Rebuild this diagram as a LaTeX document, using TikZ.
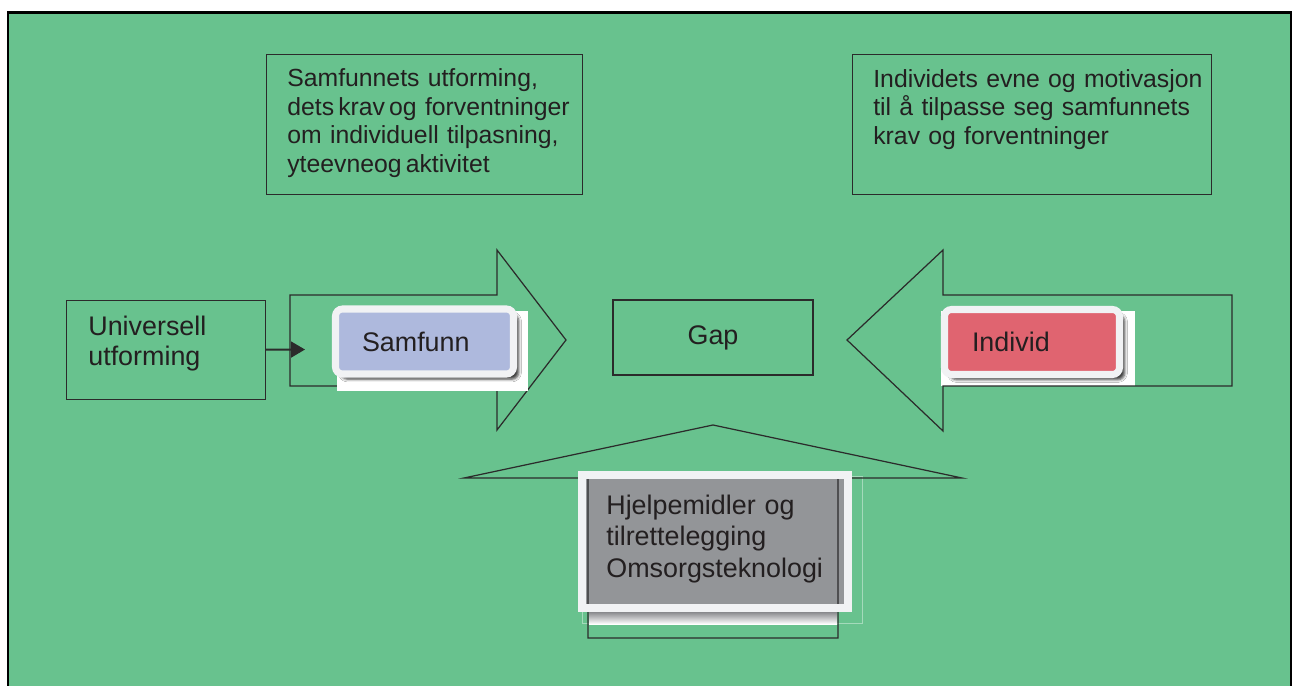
\documentclass[tikz,border=0pt]{standalone}
\usepackage{fontspec}
\setmainfont{Liberation Sans}
\usepackage{xcolor}
\usetikzlibrary{arrows.meta,positioning,shadows.blur}
\definecolor{bggreen}{HTML}{68C28E}
\definecolor{linegray}{HTML}{2B2B2B}
\definecolor{textdark}{HTML}{231F20}
\definecolor{tagblue}{HTML}{AEB9DD}
\definecolor{tagred}{HTML}{E06470}
\definecolor{hjelpgray}{HTML}{939598}
\definecolor{framewhite}{HTML}{F1F2F4}
\definecolor{shadowgray}{HTML}{8E8E92}
\newdimen\pxu
\pxu=0.02cm

\begin{document}
\begin{tikzpicture}[
    x=0.02cm, y=-0.02cm,
    outline/.style={draw=linegray, line width=0.7pt},
    plainbox/.style={outline, rectangle, inner sep=0},
    smalltext/.style={font=\fontsize{14.1}{16.3}\selectfont, text=textdark, align=left, inner sep=0},
    bigtext/.style={font=\fontsize{15.3}{17.6}\selectfont, text=textdark, align=left, inner sep=0},
    tagbox/.style={rectangle, rounded corners=4pt, draw=framewhite, line width=4pt,
        bigtext, inner ysep=0, minimum height=65\pxu,
        blur shadow={shadow xshift=3pt, shadow yshift=-3pt, shadow blur radius=1.5pt, shadow opacity=75}},
    connector/.style={draw=linegray, line width=1.1pt, -{Triangle[length=7.9pt, width=9pt]}}
]
\useasboundingbox (0,0) rectangle (1292,686);

% background and frame
\fill[bggreen] (8,12) rectangle (1292,686);
\draw[black, line width=1.2pt] (8.2,686) -- (8.2,12.5) -- (1291,12.5) -- (1291,686);

% upper text boxes
\node[plainbox, anchor=north west, minimum width=316\pxu, minimum height=140\pxu] (samfunnsbox) at (266,54) {};
\node[smalltext, anchor=base west, text width=300\pxu] (samfunnstekst) at (287,86.7)
    {Samfunnets utforming,\\ dets\,krav\,og forventninger\\ om individuell tilpasning,\\ yteevneog\,aktivitet};
\node[plainbox, anchor=north west, minimum width=359\pxu, minimum height=140\pxu] (individbox) at (852,54) {};
\node[smalltext, anchor=base west, text width=340\pxu] (individtekst) at (873,87.3)
    {Individets evne og motivasjon\\ til å tilpasse seg samfunnets\\ krav og forventninger};

% left box
\node[plainbox, anchor=north west, minimum width=199\pxu, minimum height=99\pxu] (universell) at (66,300) {};
\node[bigtext, font=\fontsize{15.3}{17.2}\selectfont, anchor=base west, text width=170\pxu] (universelltekst) at (88,335.7)
    {Universell\\ utforming};

% gap
\node[plainbox, bigtext, minimum width=200\pxu, minimum height=75\pxu] (gap) at (713,337.5) {Gap};

% right arrow (samfunn)
\draw[outline] (290,295) -- (497,295) -- (497,250) -- (566,340) -- (497,430) -- (497,386) -- (290,386) -- cycle;
\fill[white] (337,311) rectangle (528,391);

% left arrow (individ)
\fill[white] (941,311) rectangle (1135,386);
\draw[outline] (1232,295) -- (943,295) -- (943,250) -- (847,340) -- (943,431) -- (943,386) -- (1232,386) -- cycle;

\node[tagbox, fill=tagblue, text width=125\pxu, inner xsep=26.5\pxu] (samfunn) at (424.5,341.5) {Samfunn};
\node[tagbox, fill=tagred, text width=120\pxu, inner xsep=27.5\pxu] (individ) at (1032,342) {Individ};

\coordinate (samfunnsinn) at (305,349.5);
\draw[connector] (universell) -- (samfunnsinn);

% up arrow with hjelpemidler
\draw[white, opacity=0.4, line width=0.3pt] (582,476) rectangle (862,623);
\node[rectangle, fill=hjelpgray, inner sep=0, minimum width=266\pxu, minimum height=133\pxu] (hjelp) at (715,541.5) {};
\draw[outline] (588,638) -- (588,478) -- (464,478) -- (713,425) -- (962,478) -- (838,478) -- (838,638) -- cycle;
\draw[framewhite, line width=4.5pt] (hjelp.north west) rectangle (hjelp.south east);
\shade[top color=shadowgray, bottom color=white] (589,612.5) rectangle (837,624);
\node[bigtext, font=\fontsize{15.3}{18.1}\selectfont, anchor=base west, text width=240\pxu] (hjelptekst) at (606,514)
    {Hjelpemidler og\\ tilrettelegging\\ Omsorgsteknologi};

\end{tikzpicture}
\end{document}
